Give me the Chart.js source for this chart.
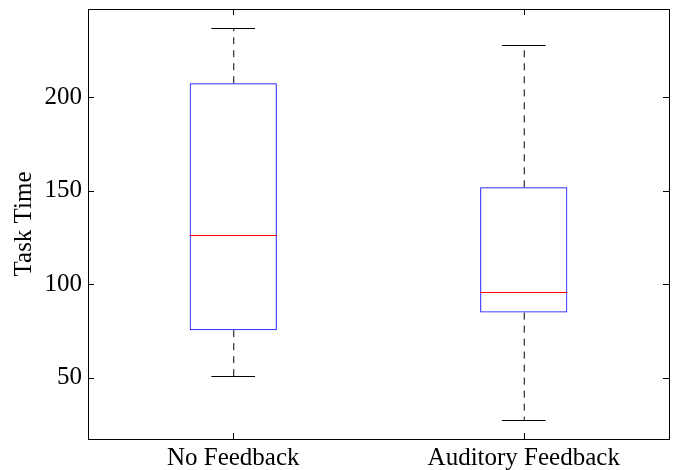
<!DOCTYPE html>
<html>
<head>
<meta charset="utf-8">
<script src="https://cdn.jsdelivr.net/npm/chart.js@4.4.1/dist/chart.umd.min.js"></script>
<style>
    html, body { margin: 0; padding: 0; background: #fff; }
    #wrap { width: 675px; height: 470px; }
</style>
</head>
<body>
<div id="wrap"><canvas id="boxChart"></canvas></div>
<script>
// ============================================
// Task time box plot
// ============================================

const categories = ['No Feedback', 'Auditory Feedback'];
const whiskerLow = [50.7, 27.4];
const quartile1 = [75.4, 84.8];
const medians = [126.3, 96.0];
const quartile3 = [207.5, 151.8];
const whiskerHigh = [236.9, 228.0];
const yTicks = [50, 100, 150, 200];

const SERIF = '"Liberation Serif", "Times New Roman", serif';

// whiskers, medians, frame and inward ticks
const boxExtras = {
    id: 'boxExtras',
    afterDatasetsDraw(chart) {
        const ctx = chart.ctx;
        const x = chart.scales.x;
        const y = chart.scales.y;
        const area = chart.chartArea;
        const meta = chart.getDatasetMeta(0);

        ctx.save();
        categories.forEach((_, i) => {
            const bar = meta.data[i];
            const cx = bar.x;
            const half = bar.width / 2;
            const capHalf = half / 2;

            // dashed whisker lines
            ctx.strokeStyle = '#000';
            ctx.lineWidth = 1;
            ctx.setLineDash([7, 6]);
            ctx.beginPath();
            ctx.moveTo(cx + 0.5, y.getPixelForValue(quartile3[i]));
            ctx.lineTo(cx + 0.5, y.getPixelForValue(whiskerHigh[i]));
            ctx.moveTo(cx + 0.5, y.getPixelForValue(quartile1[i]));
            ctx.lineTo(cx + 0.5, y.getPixelForValue(whiskerLow[i]));
            ctx.stroke();

            // caps
            ctx.setLineDash([]);
            ctx.beginPath();
            [whiskerHigh[i], whiskerLow[i]].forEach(v => {
                const py = Math.round(y.getPixelForValue(v)) + 0.5;
                ctx.moveTo(cx - capHalf, py);
                ctx.lineTo(cx + capHalf, py);
            });
            ctx.stroke();

            // median
            ctx.strokeStyle = '#ff0000';
            ctx.beginPath();
            const my = Math.round(y.getPixelForValue(medians[i])) + 0.5;
            ctx.moveTo(cx - half, my);
            ctx.lineTo(cx + half, my);
            ctx.stroke();
        });

        // axes frame
        ctx.strokeStyle = '#000';
        ctx.lineWidth = 1;
        ctx.strokeRect(Math.round(area.left) + 0.5, Math.round(area.top) + 0.5,
            Math.round(area.right - area.left), Math.round(area.bottom - area.top));

        // inward ticks
        ctx.beginPath();
        yTicks.forEach(v => {
            const py = Math.round(y.getPixelForValue(v)) + 0.5;
            ctx.moveTo(area.left, py);
            ctx.lineTo(area.left + 6, py);
            ctx.moveTo(area.right, py);
            ctx.lineTo(area.right - 6, py);
        });
        categories.forEach((_, i) => {
            const px = Math.round(x.getPixelForValue(i)) + 0.5;
            ctx.moveTo(px, area.bottom);
            ctx.lineTo(px, area.bottom - 6);
            ctx.moveTo(px, area.top);
            ctx.lineTo(px, area.top + 6);
        });
        ctx.stroke();
        ctx.restore();
    }
};

const ctx = document.getElementById('boxChart').getContext('2d');
new Chart(ctx, {
    type: 'bar',
    data: {
        labels: categories,
        datasets: [{
            data: categories.map((_, i) => [quartile1[i], quartile3[i]]),
            backgroundColor: 'rgba(0,0,0,0)',
            borderColor: '#0000ff',
            borderWidth: 1,
            borderSkipped: false,
            categoryPercentage: 0.3,
            barPercentage: 1.0
        }]
    },
    options: {
        responsive: true,
        maintainAspectRatio: false,
        animation: false,
        layout: { padding: { top: 9, right: 6, left: 0, bottom: 0 } },
        plugins: {
            legend: { display: false },
            tooltip: { enabled: false }
        },
        scales: {
            x: {
                grid: { display: false, drawTicks: false },
                border: { display: false },
                ticks: {
                    color: '#000',
                    padding: 4,
                    maxRotation: 0,
                    font: { family: SERIF, size: 25 }
                },
                afterFit: s => {
                    s.height = 31;
                    s.paddingLeft = 0;
                    s.paddingRight = 0;
                }
            },
            y: {
                min: 17.2,
                max: 247.2,
                grid: { display: false, drawTicks: false },
                border: { display: false },
                afterBuildTicks: s => { s.ticks = yTicks.map(v => ({ value: v })); },
                ticks: {
                    color: '#000',
                    padding: 6,
                    font: { family: SERIF, size: 25 }
                },
                title: {
                    display: true,
                    text: 'Task Time',
                    color: '#000',
                    padding: { top: 9, bottom: 0 },
                    font: { family: SERIF, size: 25 }
                },
                afterFit: s => {
                    s.width = 88;
                    s.paddingTop = 0;
                    s.paddingBottom = 0;
                }
            }
        }
    },
    plugins: [boxExtras]
});
</script>
</body>
</html>
